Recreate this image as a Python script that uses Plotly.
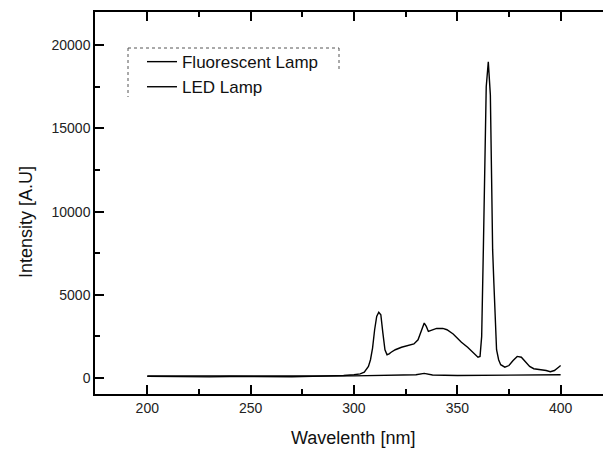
import plotly.graph_objects as go

# Fluorescent lamp spectrum
fl_wavelength = [200, 210, 220, 230, 240, 250, 260, 270, 280, 290, 295, 300, 303, 305, 307, 308,
                 309, 310, 311, 312, 313, 314, 315, 316, 317, 318, 320, 323, 326, 329, 331, 333,
                 334, 335, 336, 337, 340, 343, 345, 348, 350, 352, 355, 358, 360, 361, 361.8,
                 362.6, 363.3, 364, 365, 366, 366.6, 367.1, 367.7, 368.3, 369, 370, 371, 373,
                 375, 377, 379, 381, 383, 385, 387, 390, 393, 395, 397, 399, 400]
fl_intensity = [100, 80, 90, 70, 90, 80, 90, 80, 100, 110, 150, 200, 250, 350, 700, 1100,
                1800, 2900, 3700, 3950, 3800, 2700, 1700, 1400, 1450, 1550, 1700, 1850, 1950, 2050, 2300, 3000,
                3300, 3100, 2800, 2850, 2980, 2980, 2900, 2650, 2400, 2150, 1850, 1500, 1250, 1300, 2500,
                7700, 14000, 17500, 19000, 17000, 12000, 7700, 5700, 3200, 1700, 1100, 800, 650,
                750, 1050, 1300, 1250, 1000, 700, 560, 520, 450, 380, 450, 650, 750]

# LED lamp spectrum
led_wavelength = [200, 220, 240, 260, 280, 300, 320, 330, 334, 338, 350, 370, 380, 390, 400]
led_intensity = [120, 110, 100, 110, 120, 130, 150, 200, 280, 180, 150, 170, 180, 190, 200]

x_ticks = [200, 250, 300, 350, 400]
y_ticks = [0, 5000, 10000, 15000, 20000]
y_tick_labels = ["0", "5000", "10000", "15000", "20000"]

X_RANGE = [174.7, 420.5]
Y_RANGE = [-960, 21995]
FONT = "Liberation Sans, Arial, sans-serif"

# plot area in pixels
L, T, W, H = 95, 12, 508, 382

fig = go.Figure()
fig.add_trace(go.Scatter(x=fl_wavelength, y=fl_intensity, mode="lines", name="Fluorescent Lamp",
                         line=dict(color="black", width=1.4)))
fig.add_trace(go.Scatter(x=led_wavelength, y=led_intensity, mode="lines", name="LED Lamp",
                         line=dict(color="black", width=1.4)))

axis_font = dict(family=FONT, size=14, color="#222")

fig.update_layout(
    width=603, height=449,
    margin=dict(l=L, r=603 - L - W, t=T, b=449 - T - H),
    plot_bgcolor="white", paper_bgcolor="white",
    showlegend=True,
    legend=dict(x=0.0925, y=0.916, xanchor="left", yanchor="top",
                bgcolor="rgba(0,0,0,0)", borderwidth=0,
                font=dict(family=FONT, size=17, color="#111"),
                tracegroupgap=0),
    xaxis=dict(range=X_RANGE, tickvals=x_ticks, ticks="inside", ticklen=9,
               tickwidth=2, tickcolor="black", showline=True, linecolor="black", linewidth=1.5,
               mirror="ticks", tickfont=axis_font,
               minor=dict(dtick=25, tick0=200, ticks="inside", ticklen=5,
                          tickwidth=2, tickcolor="black")),
    yaxis=dict(range=Y_RANGE, tickvals=y_ticks, ticktext=y_tick_labels, ticks="inside",
               ticklen=9, tickwidth=2, tickcolor="black", showline=True, linecolor="black", linewidth=1.5,
               tickfont=axis_font,
               minor=dict(dtick=2500, tick0=0, ticks="inside", ticklen=5,
                          tickwidth=2, tickcolor="black")),
    font=dict(family=FONT),
)
fig.update_xaxes(showgrid=False, zeroline=False)
fig.update_yaxes(showgrid=False, zeroline=False)

# Axis titles
fig.add_annotation(text="Wavelenth [nm]", xref="paper", yref="paper",
                   x=(353 - L) / W, y=-(438 - (T + H)) / H, xanchor="center", yanchor="middle",
                   showarrow=False, font=dict(family=FONT, size=18, color="#111"))
fig.add_annotation(text="Intensity [A.U]", xref="paper", yref="paper",
                   x=-(L - 26) / W, y=(T + H - 222) / H, xanchor="center", yanchor="middle",
                   textangle=-90, showarrow=False, font=dict(family=FONT, size=18, color="#111"))

# Dotted legend frame
def px_x(p):
    return (p - L) / W

def px_y(p):
    return (T + H - p) / H

frame = dict(color="#555", width=1, dash="dot")
fig.add_shape(type="line", xref="paper", yref="paper", x0=px_x(128), x1=px_x(339), y0=px_y(48), y1=px_y(48), line=frame)
fig.add_shape(type="line", xref="paper", yref="paper", x0=px_x(128), x1=px_x(128), y0=px_y(48), y1=px_y(97), line=frame)
fig.add_shape(type="line", xref="paper", yref="paper", x0=px_x(339), x1=px_x(339), y0=px_y(48), y1=px_y(70), line=frame)

fig.write_html("out.html")
